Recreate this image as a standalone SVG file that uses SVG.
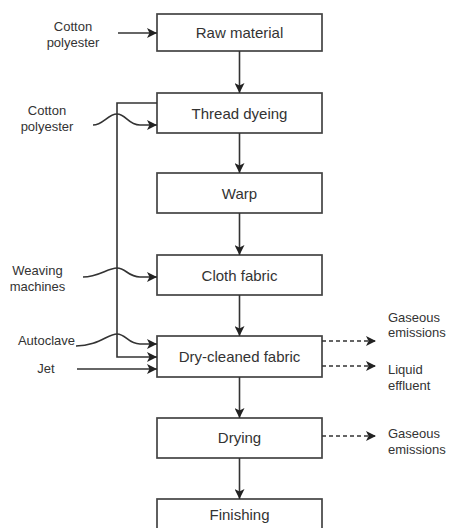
<svg xmlns="http://www.w3.org/2000/svg" width="449" height="528" viewBox="0 0 449 528">
  <defs>
    <marker id="arrL" viewBox="0 0 10 10" refX="10" refY="5" markerWidth="10" markerHeight="10" markerUnits="userSpaceOnUse" orient="auto">
      <path d="M0,0 L10,5 L0,10 L2.5,5 Z" fill="#222"/>
    </marker>
  </defs>
  <style>
    .box { fill: #fff; stroke: #444; stroke-width: 1.7; }
    .lbl { font-family: "Liberation Sans", Arial, sans-serif; font-size: 15px; fill: #333; text-anchor: middle; }
    .side { font-family: "Liberation Sans", Arial, sans-serif; font-size: 13px; fill: #333; }
    .mid { text-anchor: middle; }
    .end { text-anchor: end; }
    .ln { fill: none; stroke: #333; stroke-width: 1.6; }
    .dash { fill: none; stroke: #333; stroke-width: 1.5; stroke-dasharray: 4 3; }
  </style>
  <rect width="449" height="528" fill="#fff"/>

  <!-- process nodes -->
  <g id="raw-material">
    <rect class="box" x="157" y="14" width="165" height="37"/>
    <text class="lbl" x="239.5" y="38">Raw material</text>
  </g>
  <g id="thread-dyeing">
    <rect class="box" x="157" y="93" width="165" height="40"/>
    <text class="lbl" x="239.5" y="119">Thread dyeing</text>
  </g>
  <g id="warp">
    <rect class="box" x="157" y="173" width="165" height="40"/>
    <text class="lbl" x="239.5" y="199">Warp</text>
  </g>
  <g id="cloth-fabric">
    <rect class="box" x="157" y="255" width="165" height="40"/>
    <text class="lbl" x="239.5" y="281">Cloth fabric</text>
  </g>
  <g id="dry-cleaned-fabric">
    <rect class="box" x="157" y="336" width="165" height="41"/>
    <text class="lbl" x="239.5" y="362">Dry-cleaned fabric</text>
  </g>
  <g id="drying">
    <rect class="box" x="157" y="418" width="165" height="40"/>
    <text class="lbl" x="239.5" y="443">Drying</text>
  </g>
  <g id="finishing">
    <rect class="box" x="157" y="499" width="165" height="40"/>
    <text class="lbl" x="239.5" y="520">Finishing</text>
  </g>

  <!-- inputs and outputs -->
  <g id="input-cotton-1">
    <text class="side mid" x="73" y="31">Cotton</text>
    <text class="side mid" x="73" y="47">polyester</text>
  </g>
  <g id="input-cotton-2">
    <text class="side mid" x="47" y="115">Cotton</text>
    <text class="side mid" x="47" y="131">polyester</text>
  </g>
  <g id="input-weaving">
    <text class="side mid" x="37.5" y="275">Weaving</text>
    <text class="side mid" x="37.5" y="291">machines</text>
  </g>
  <g id="input-autoclave">
    <text class="side end" x="75" y="345">Autoclave</text>
  </g>
  <g id="input-jet">
    <text class="side mid" x="46" y="373">Jet</text>
  </g>
  <g id="output-gas-1">
    <text class="side" x="388" y="322">Gaseous</text>
    <text class="side" x="388" y="337">emissions</text>
  </g>
  <g id="output-liquid">
    <text class="side" x="388" y="374">Liquid</text>
    <text class="side" x="388" y="390">effluent</text>
  </g>
  <g id="output-gas-2">
    <text class="side" x="388" y="438">Gaseous</text>
    <text class="side" x="388" y="454">emissions</text>
  </g>

  <!-- connectors -->
  <g id="connectors">
    <!-- main flow -->
    <line class="ln" x1="239.5" y1="51" x2="239.5" y2="93" marker-end="url(#arrL)"/>
    <line class="ln" x1="239.5" y1="133" x2="239.5" y2="173" marker-end="url(#arrL)"/>
    <line class="ln" x1="239.5" y1="213" x2="239.5" y2="255" marker-end="url(#arrL)"/>
    <line class="ln" x1="239.5" y1="295" x2="239.5" y2="336" marker-end="url(#arrL)"/>
    <line class="ln" x1="239.5" y1="377" x2="239.5" y2="418" marker-end="url(#arrL)"/>
    <line class="ln" x1="239.5" y1="458" x2="239.5" y2="499" marker-end="url(#arrL)"/>

    <!-- side inputs -->
    <line class="ln" x1="118" y1="33" x2="157" y2="33" marker-end="url(#arrL)"/>
    <path class="ln" d="M93,125 C103,125 108,114 117,114 C126,114 128,125 140,125 L157,125" marker-end="url(#arrL)"/>
    <path class="ln" d="M83,277 C98,277 108,268 117,268 C126,268 128,277 140,277 L157,277" marker-end="url(#arrL)"/>
    <path class="ln" d="M76,346 C98,346 108,334 117,334 C126,334 128,344 140,344 L157,344" marker-end="url(#arrL)"/>
    <line class="ln" x1="77" y1="369" x2="157" y2="369" marker-end="url(#arrL)"/>

    <!-- bypass loop from thread dyeing to dry-cleaning -->
    <path class="ln" d="M157,103 L117,103 L117,357 L157,357" marker-end="url(#arrL)"/>

    <!-- outputs -->
    <line class="dash" x1="322" y1="341" x2="376" y2="341" marker-end="url(#arrL)"/>
    <line class="dash" x1="322" y1="366" x2="376" y2="366" marker-end="url(#arrL)"/>
    <line class="dash" x1="322" y1="436" x2="376" y2="436" marker-end="url(#arrL)"/>
  </g>
</svg>
